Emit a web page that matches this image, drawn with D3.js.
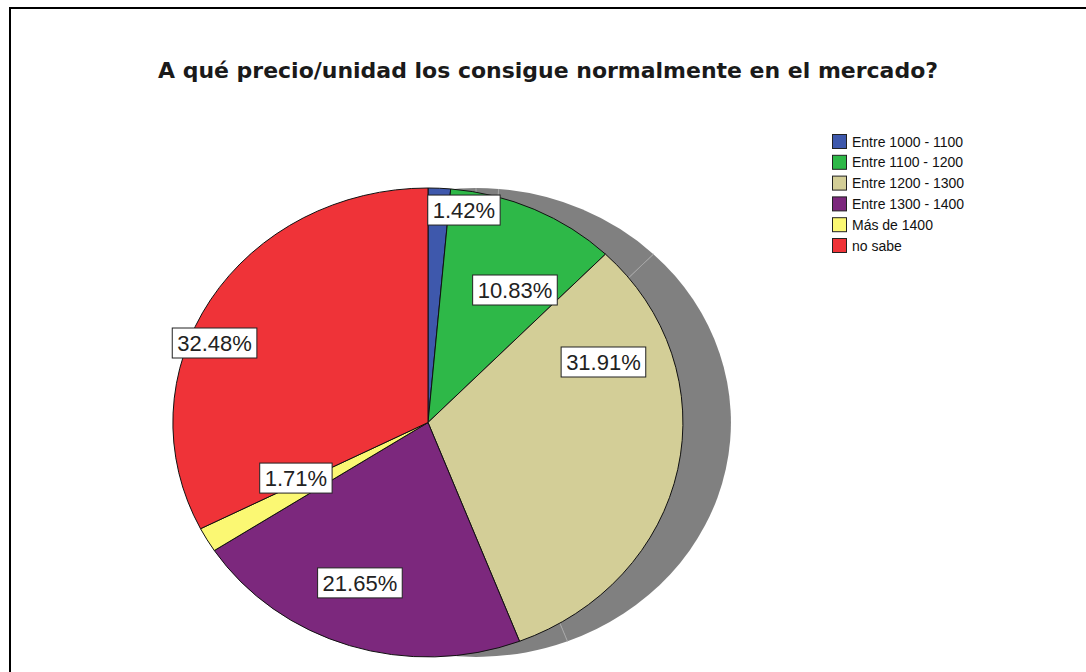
<!DOCTYPE html>
<html>
<head>
<meta charset="utf-8">
<script src="https://cdn.jsdelivr.net/npm/d3@7"></script>
<style>
body { margin: 0; background: #fff; }
svg { display: block; font-family: "Liberation Sans", Arial, sans-serif; }
</style>
</head>
<body>
<div id="chart"></div>
<script>
const categories = ["Entre 1000 - 1100", "Entre 1100 - 1200", "Entre 1200 - 1300", "Entre 1300 - 1400", "Más de 1400", "no sabe"]
const percents = [1.42, 10.83, 31.91, 21.65, 1.71, 32.48]
const colors = ["#3e58ac", "#2eb848", "#d3ce97", "#7c287d", "#fbf873", "#ef3338"]
const title = "A qué precio/unidad los consigue normalmente en el mercado?"

const width = 1086
const height = 672

// pie is drawn as a unit circle stretched into an ellipse
const center = { x: 428, y: 422.5 }
const radius = { x: 255, y: 234.5 }
const shadowShift = 48

// label box centres, as fractions of the two radii (SPSS moves them around)
const labelOffsets = [
    [0.141, -0.906],
    [0.341, -0.565],
    [0.688, -0.258],
    [-0.267, 0.684],
    [-0.518, 0.237],
    [-0.837, -0.339],
]

const data = categories.map((c, i) => ({ name: c, value: percents[i], color: colors[i] }))

const svg = d3.select("div#chart").append("svg").attr("width", width).attr("height", height)

// frame (runs off the right and bottom of the picture)
svg.append("rect")
    .attr("x", 10).attr("y", 8)
    .attr("width", width + 20).attr("height", height + 20)
    .attr("fill", "none").attr("stroke", "#000").attr("stroke-width", 2)

svg.append("text")
    .attr("x", 548).attr("y", 78)
    .attr("text-anchor", "middle")
    .attr("font-family", "'DejaVu Sans', sans-serif")
    .attr("font-size", 21).attr("font-weight", "bold")
    .attr("textLength", 780).attr("lengthAdjust", "spacingAndGlyphs")
    .attr("fill", "#1a1a1a")
    .text(title)

const pie = d3.pie().sort(null).value(d => d.value)
const arcs = pie(data)
const arc = d3.arc().innerRadius(0).outerRadius(1)

// shadow
const shadowGroup = svg.append("g")
    .attr("transform", `translate(${center.x + shadowShift}, ${center.y}) scale(${radius.x}, ${radius.y})`)
shadowGroup.selectAll("path").data(arcs).enter()
    .append("path")
    .attr("d", arc)
    .attr("fill", "#808080")
shadowGroup.selectAll("line").data(arcs).enter()
    .append("line")
    .attr("x1", 0).attr("y1", 0)
    .attr("x2", d => Math.sin(d.startAngle))
    .attr("y2", d => -Math.cos(d.startAngle))
    .attr("stroke", "#a6a6a6")
    .attr("stroke-width", 1)
    .attr("vector-effect", "non-scaling-stroke")

// slices
const pieGroup = svg.append("g")
    .attr("transform", `translate(${center.x}, ${center.y}) scale(${radius.x}, ${radius.y})`)
pieGroup.selectAll("path").data(arcs).enter()
    .append("path")
    .attr("d", arc)
    .attr("fill", d => d.data.color)
    .attr("stroke", "#111")
    .attr("stroke-width", 1)
    .attr("stroke-linejoin", "round")
    .attr("vector-effect", "non-scaling-stroke")

// percentage labels
const labelGroup = svg.append("g")
const labels = labelGroup.selectAll("g").data(arcs).enter()
    .append("g")
    .attr("transform", (d, i) => `translate(${center.x + labelOffsets[i][0] * radius.x}, ${center.y + labelOffsets[i][1] * radius.y})`)

labels.append("rect")
    .attr("fill", "#fff").attr("stroke", "#222").attr("stroke-width", 1)

labels.append("text")
    .attr("text-anchor", "middle")
    .attr("dy", "0.36em")
    .attr("font-size", 22)
    .attr("fill", "#222")
    .text(d => d.data.value.toFixed(2) + "%")

labels.each(function () {
    const g = d3.select(this)
    const w = g.select("text").node().getComputedTextLength()
    g.select("rect")
        .attr("x", -w / 2 - 5).attr("y", -15)
        .attr("width", w + 10).attr("height", 30)
})

// legend
const legend = svg.append("g").attr("transform", "translate(832, 134)")
const items = legend.selectAll("g").data(data).enter()
    .append("g")
    .attr("transform", (d, i) => `translate(0, ${i * 20.8})`)
items.append("rect")
    .attr("x", 0.5).attr("y", 0.5)
    .attr("width", 14).attr("height", 14)
    .attr("fill", d => d.color)
    .attr("stroke", "#222").attr("stroke-width", 1)
items.append("text")
    .attr("x", 20).attr("y", 12.5)
    .attr("font-size", 14)
    .attr("fill", "#111")
    .text(d => d.name)
</script>
</body>
</html>
